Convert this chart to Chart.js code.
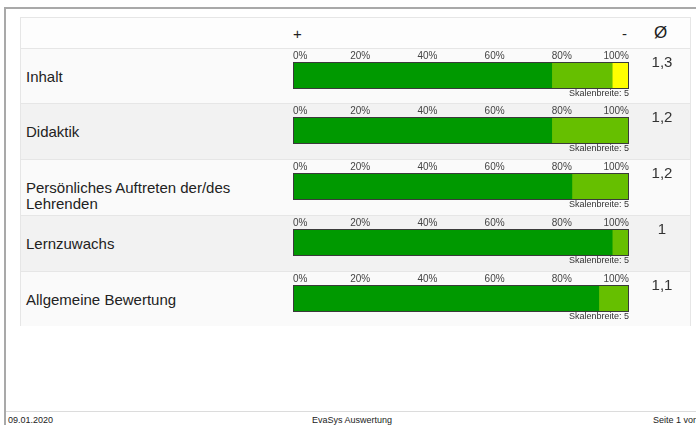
<!DOCTYPE html>
<html>
<head>
<meta charset="utf-8">
<script src="https://cdn.jsdelivr.net/npm/chart.js@4"></script>
<style>
body { margin: 0; width: 696px; height: 425px; overflow: hidden; background: #fff; font-family: "Liberation Sans", Arial, sans-serif; position: relative; }
#page { position: absolute; left: 4px; top: 7px; width: 720px; height: 440px; border-left: 2px solid #a9a9a9; border-top: 2px solid #a9a9a9; }
#tbl { position: absolute; left: 20px; top: 17px; width: 669px; height: 307px; border: 1px solid #e6e6e6; background: #fdfdfd; }
.head { position: absolute; top: 7px; font-size: 15px; color: #222; }
.row { position: absolute; left: 0; width: 669px; border-top: 1px solid #e6e6e6; }
.lbl { position: absolute; left: 5px; top: 20px; width: 250px; font-size: 15px; line-height: 16px; color: #222; }
.avg { position: absolute; left: 615px; width: 52px; text-align: center; top: 4px; font-size: 15px; color: #333; }
.bar { position: absolute; left: 265px; top: 1px; width: 350px; height: 39px; }
.skala { position: absolute; left: 400px; width: 208px; text-align: right; top: 39px; font-size: 9px; color: #333; }
#foot { position: absolute; left: 6px; top: 411px; width: 700px; border-top: 1px solid #dcdcdc; }
.ft { position: absolute; top: 415px; font-size: 9px; color: #222; white-space: nowrap; }
</style>
</head>
<body>
<div id="page"></div>
<div id="tbl">
  <div class="head" style="left:272px">+</div>
  <div class="head" style="left:601px">-</div>
  <div class="head" style="left:633px;font-size:17px;top:5px">Ø</div>
</div>
<div id="foot"></div>
<div class="ft" style="left:8px">09.01.2020</div>
<div class="ft" style="left:312px">EvaSys Auswertung</div>
<div class="ft" style="left:653px">Seite 1 von 1</div>

<script>
const categories = ['Inhalt', 'Didaktik', 'Persönliches Auftreten der/des Lehrenden', 'Lernzuwachs', 'Allgemeine Bewertung'];
const share1 = [77, 77, 83, 95, 91];
const share2 = [18, 23, 17, 5, 9];
const share3 = [5, 0, 0, 0, 0];
const averages = ['1,3', '1,2', '1,2', '1', '1,1'];
const tickValues = [0, 20, 40, 60, 80, 100];
const scaleNote = 'Skalenbreite: 5';

const colors = ['#009900', '#66bf00', '#ffff00'];
const rowBg = ['#fafafa', '#f2f2f2', '#fafafa', '#f2f2f2', '#fafafa'];
const rowTops = [30, 85, 141, 197, 253];
const rowHeights = [55, 56, 56, 56, 54];

const outline = {
    id: 'outline',
    afterDatasetsDraw(chart) {
        const a = chart.chartArea;
        const ctx = chart.ctx;
        ctx.save();
        ctx.strokeStyle = '#3a3a3a';
        ctx.lineWidth = 1;
        ctx.strokeRect(a.left + 0.5, a.top + 0.5, a.right - a.left - 1, a.bottom - a.top - 1);
        ctx.restore();
    }
};

var tbl = document.getElementById('tbl');
categories.forEach((cat, i) => {
    var row = document.createElement('div');
    row.className = 'row';
    row.style.top = rowTops[i] + 'px';
    row.style.height = rowHeights[i] + 'px';
    row.style.background = rowBg[i];
    row.innerHTML = `
        <div class="lbl">${cat}</div>
        <div class="bar"><canvas id="bar${i}"></canvas></div>
        <div class="skala">${scaleNote}</div>
        <div class="avg">${averages[i]}</div>
    `;
    tbl.appendChild(row);

    new Chart(document.getElementById('bar' + i), {
        type: 'bar',
        data: {
            labels: [cat],
            datasets: [share1, share2, share3].map((s, k) => ({
                data: [s[i]],
                backgroundColor: colors[k],
                borderWidth: 0,
                barPercentage: 1,
                categoryPercentage: 1
            }))
        },
        options: {
            indexAxis: 'y',
            responsive: true,
            maintainAspectRatio: false,
            animation: false,
            layout: { padding: { left: 7, right: 7, top: 0, bottom: 0 } },
            plugins: { legend: { display: false }, tooltip: { enabled: false } },
            scales: {
                x: {
                    stacked: true,
                    position: 'top',
                    min: 0,
                    max: 100,
                    afterBuildTicks: (axis) => { axis.ticks = tickValues.map(v => ({ value: v })); },
                    ticks: {
                        callback: v => v + '%',
                        align: 'inner',
                        autoSkip: false,
                        maxRotation: 0,
                        padding: 0,
                        color: '#444',
                        font: { family: '"Liberation Sans", Arial, sans-serif', size: 10 }
                    },
                    grid: { display: false, drawTicks: false },
                    border: { display: false }
                },
                y: { stacked: true, display: false }
            }
        },
        plugins: [outline]
    });
});
</script>
</body>
</html>
